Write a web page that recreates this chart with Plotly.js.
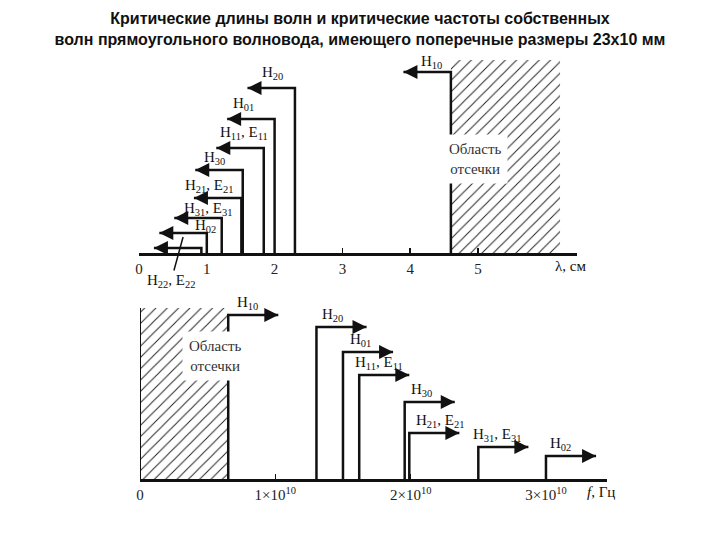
<!DOCTYPE html>
<html><head><meta charset="utf-8">
<script src="https://cdn.plot.ly/plotly-3.0.1.min.js"></script>
<style>html,body{margin:0;padding:0;background:#fff}#chart{width:720px;height:540px}</style>
</head><body><div id="chart"></div>
<script>
// ---- data ----
const topModes = ["H<sub>10</sub>", "H<sub>20</sub>", "H<sub>01</sub>", "H<sub>11</sub>, E<sub>11</sub>", "H<sub>30</sub>",
  "H<sub>21</sub>, E<sub>21</sub>", "H<sub>31</sub>, E<sub>31</sub>", "H<sub>02</sub>", "H<sub>22</sub>, E<sub>22</sub>"];
const critLambdaCm = [4.6, 2.3, 2.0, 1.84, 1.53, 1.51, 1.22, 1.0, 0.92];
const topLevel = [181, 165, 134, 105, 83, 55, 35, 20, 5];

const botModes = ["H<sub>10</sub>", "H<sub>20</sub>", "H<sub>01</sub>", "H<sub>11</sub>, E<sub>11</sub>", "H<sub>30</sub>",
  "H<sub>21</sub>, E<sub>21</sub>", "H<sub>31</sub>, E<sub>31</sub>", "H<sub>02</sub>"];
const critFreq1e10 = [0.652, 1.304, 1.5, 1.62, 1.956, 1.99, 2.5, 3.0];
const botLevel = [164, 152, 127, 104, 77, 46, 32, 23];

const topTickVals = [0, 1, 2, 3, 4, 5];
const topTickText = ["0", "1", "2", "3", "4", "5"];
const botTickVals = [0, 1, 2, 3];
const botTickText = ["0", "1×10<sup>10</sup>", "2×10<sup>10</sup>", "3×10<sup>10</sup>"];

// ---- style / layout constants ----
const W = 720, H = 540;
const px = x => x / W, py = y => 1 - y / H;
const serif = "Liberation Serif, Times New Roman, serif";
const topArrowLen = 0.7, botArrowLen = 0.37;
const topLabelXShift = [4, 1, -7, 4, -5, -8, 11, 22];
const topLabelYShift = [10, 15, 15, 15, 12, 12, 9, 7];
const botLabelXShift = [7, 4, 5, -6, 4, 5, -7, 2];

const traces = [];
const annotations = [];

function modeLines(xs, lv, len, dir, xa, ya) {
  const x = [], y = [];
  xs.forEach((v, i) => {
    x.push(v, v, v + dir * len, null);
    y.push(0, lv[i], lv[i], null);
    annotations.push({xref: xa, yref: ya, axref: xa, ayref: ya, x: v + dir * len, y: lv[i], ax: v, ay: lv[i],
      text: "", showarrow: true, arrowhead: 2, arrowsize: 1.4, arrowwidth: 2, arrowcolor: "#111", standoff: 0});
  });
  traces.push({type: "scatter", mode: "lines", x: x, y: y, xaxis: xa, yaxis: ya,
    line: {color: "#111", width: 2.5}, hoverinfo: "skip", showlegend: false});
}

const hatch = {shape: "/", fgcolor: "#222", bgcolor: "white", size: 8, solidity: 0.12};
// hatched cut-off regions
traces.push({type: "scatter", mode: "lines", xaxis: "x", yaxis: "y",
  x: [critLambdaCm[0], 6.21, 6.21, critLambdaCm[0], critLambdaCm[0]], y: [0, 0, 193, 193, 0],
  fill: "toself", fillcolor: "white", line: {width: 0}, fillpattern: hatch,
  hoverinfo: "skip", showlegend: false});
traces.push({type: "scatter", mode: "lines", xaxis: "x2", yaxis: "y2",
  x: [0, critFreq1e10[0], critFreq1e10[0], 0, 0], y: [0, 0, 171, 171, 0],
  fill: "toself", fillcolor: "white", line: {width: 0}, fillpattern: hatch,
  hoverinfo: "skip", showlegend: false});
traces.push({type: "scatter", mode: "lines", xaxis: "x2", yaxis: "y2", x: [0, 0], y: [0, 171],
  line: {color: "#111", width: 2}, hoverinfo: "skip", showlegend: false});

modeLines(critLambdaCm, topLevel, topArrowLen, -1, "x", "y");
modeLines(critFreq1e10, botLevel, botArrowLen, 1, "x2", "y2");

const labFont = {family: serif, size: 15, color: "#111"};
// top labels
for (let i = 0; i < 8; i++) {
  annotations.push({xref: "x", yref: "y", x: critLambdaCm[i] - topArrowLen / 2, y: topLevel[i],
    text: topModes[i], showarrow: false, xanchor: "center", yanchor: "middle",
    xshift: topLabelXShift[i], yshift: topLabelYShift[i], font: labFont});
}
// H22 label with leader line
annotations.push({xref: "x", yref: "y", x: 0.65, y: 16, text: topModes[8], showarrow: true,
  arrowhead: 0, arrowwidth: 1.5, arrowcolor: "#111", ax: -12, ay: 44, standoff: 0, font: labFont});
// bottom labels
for (let i = 0; i < botModes.length; i++) {
  annotations.push({xref: "x2", yref: "y2", x: critFreq1e10[i], y: botLevel[i],
    text: botModes[i], showarrow: false, xanchor: "left", yanchor: "middle",
    xshift: botLabelXShift[i], yshift: 12.5, font: labFont});
}
// cut-off region text
const cutFont = {family: serif, size: 15, color: "#333"};
annotations.push({xref: "paper", yref: "paper", x: px(508), y: py(134), text: "Область<br>отсечки",
  showarrow: false, bgcolor: "white", borderpad: 6, font: cutFont});
annotations.push({xref: "paper", yref: "paper", x: px(182), y: py(381), text: "Область<br>отсечки",
  showarrow: false, bgcolor: "white", borderpad: 6, font: cutFont});
// axis names
annotations.push({xref: "paper", yref: "paper", x: px(570), y: py(266), xanchor: "center", yanchor: "middle",
  text: "λ, см", showarrow: false, font: labFont});
annotations.push({xref: "paper", yref: "paper", x: px(601), y: py(492), xanchor: "center", yanchor: "middle",
  text: "<i>f</i>, Гц", showarrow: false, font: labFont});

const axCommon = {showgrid: false, zeroline: false, showline: true, linecolor: "#111", linewidth: 3,
  ticks: "inside", ticklen: 5, tickwidth: 1.5, tickcolor: "#111", tickfont: {family: serif, size: 15, color: "#222"},
  fixedrange: true};
const yCommon = {visible: false, showgrid: false, zeroline: false, fixedrange: true};

const layout = {
  width: W, height: H, margin: {l: 0, r: 0, t: 0, b: 0},
  paper_bgcolor: "white", plot_bgcolor: "rgba(0,0,0,0)",
  title: {text: "Критические длины волн и критические частоты собственных<br>волн прямоугольного волновода, имеющего поперечные размеры 23x10 мм",
    x: 0.5, xanchor: "center", y: py(24), yanchor: "middle",
    font: {family: "Liberation Sans, Arial, sans-serif", size: 16, color: "#111", weight: "bold"}},
  xaxis: Object.assign({}, axCommon, {domain: [px(139), px(577)], range: [0, 6.46], anchor: "y",
    tickvals: topTickVals, ticktext: topTickText}),
  yaxis: Object.assign({}, yCommon, {domain: [py(253), py(53)], range: [0, 200], anchor: "x"}),
  xaxis2: Object.assign({}, axCommon, {domain: [px(140), px(607)], range: [0, 3.451], anchor: "y2",
    tickvals: botTickVals, ticktext: botTickText}),
  yaxis2: Object.assign({}, yCommon, {domain: [py(479), py(290)], range: [0, 189], anchor: "x2"}),
  annotations: annotations,
  showlegend: false
};

Plotly.newPlot("chart", traces, layout, {staticPlot: true});
</script></body></html>
